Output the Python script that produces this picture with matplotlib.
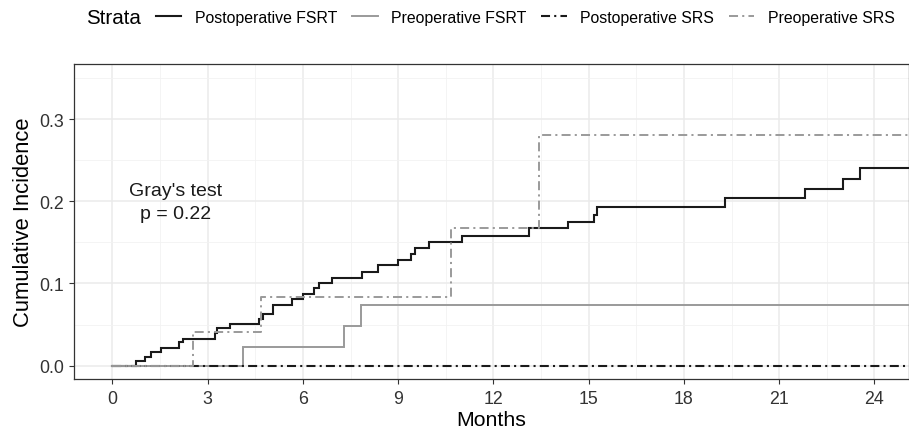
import matplotlib
matplotlib.use("Agg")
import matplotlib.pyplot as plt
from matplotlib.lines import Line2D

plt.rcParams['font.family'] = ['Liberation Sans', 'DejaVu Sans']
plt.rcParams['lines.scale_dashes'] = False

# ---- data ----
postop_fsrt_t = [0, 0.74, 1.02, 1.23, 1.53, 2.10, 2.23, 3.23, 3.30, 3.70, 4.62, 4.75,
                 5.05, 5.66, 5.99, 6.35, 6.50, 6.92, 7.87, 8.37, 9.00, 9.41, 9.53,
                 9.97, 11.02, 13.12, 14.36, 15.17, 15.25, 19.29, 21.82, 23.02, 23.54]
postop_fsrt_ci = [0, 0.006, 0.010, 0.017, 0.0215, 0.0285, 0.033, 0.040, 0.0455, 0.051,
                  0.057, 0.063, 0.074, 0.081, 0.087, 0.094, 0.100, 0.107, 0.114, 0.122,
                  0.129, 0.136, 0.143, 0.151, 0.158, 0.167, 0.175, 0.183, 0.193, 0.204,
                  0.215, 0.227, 0.2405]
preop_fsrt_t = [0, 4.10, 7.30, 7.82]
preop_fsrt_ci = [0, 0.023, 0.048, 0.074]
postop_srs_t = [0]
postop_srs_ci = [0]
preop_srs_t = [0, 2.53, 4.68, 10.68, 13.44]
preop_srs_ci = [0, 0.041, 0.084, 0.168, 0.281]
follow_up_end = 25.5

strata = ["Postoperative FSRT", "Preoperative FSRT", "Postoperative SRS", "Preoperative SRS"]
x_ticks = [0, 3, 6, 9, 12, 15, 18, 21, 24]
y_ticks = [0.0, 0.1, 0.2, 0.3]
annot_text = "Gray's test\np = 0.22"

# ---- styles ----
dashdot = (0, (6.5, 3.0, 1.5, 3.0))
styles = {
    "Postoperative FSRT": dict(color="#1a1a1a", ls="-", lw=1.5),
    "Preoperative FSRT": dict(color="#9a9a9a", ls="-", lw=1.4),
    "Postoperative SRS": dict(color="#1a1a1a", ls=dashdot, lw=1.5),
    "Preoperative SRS": dict(color="#9a9a9a", ls=dashdot, lw=1.4),
}
series = {
    "Postoperative FSRT": (postop_fsrt_t, postop_fsrt_ci),
    "Preoperative FSRT": (preop_fsrt_t, preop_fsrt_ci),
    "Postoperative SRS": (postop_srs_t, postop_srs_ci),
    "Preoperative SRS": (preop_srs_t, preop_srs_ci),
}

W, H = 909, 431
fig = plt.figure(figsize=(W / 100, H / 100), dpi=100)
ax = fig.add_axes([74 / W, 1 - 380 / H, 1 - 74 / W, (380 - 65) / H])

for name in strata:
    t, ci = series[name]
    xs = list(t) + [follow_up_end]
    ys = list(ci) + [ci[-1]]
    st = styles[name]
    ax.plot(xs, ys, drawstyle="steps-post", color=st["color"], linestyle=st["ls"],
            linewidth=st["lw"], solid_joinstyle="miter", zorder=3)

ax.set_xlim(-1.21, 25.09)
ax.set_ylim(-0.0162, 0.367)
ax.set_xticks(x_ticks)
ax.set_yticks(y_ticks)
ax.set_xticks([v + 1.5 for v in x_ticks[:-1]], minor=True)
ax.set_yticks([0.05, 0.15, 0.25, 0.35], minor=True)
ax.set_yticklabels([f"{v:.1f}" for v in y_ticks])
ax.grid(which="major", color="#EBEBEB", lw=1.1, zorder=0)
ax.grid(which="minor", color="#F2F2F2", lw=0.6, zorder=0)
ax.set_axisbelow(True)
ax.tick_params(which="major", length=3.4, width=0.8, color="#333333",
               labelsize=12.8, labelcolor="#333333")
ax.tick_params(axis="x", which="major", pad=4.5)
ax.tick_params(axis="y", which="major", pad=3.5)
ax.tick_params(which="minor", length=0)
for sp in ax.spines.values():
    sp.set_color("#333333")
    sp.set_linewidth(0.9)

ax.set_xlabel("Months", fontsize=15.3, labelpad=2.5)
ax.set_ylabel("Cumulative Incidence", fontsize=15.8, labelpad=4)

ax.text(2.0, 0.199, annot_text, ha="center", va="center", fontsize=14,
        linespacing=1.45, color="#1a1a1a")

# legend on top
handles = [Line2D([0], [0], color=styles[n]["color"], linestyle=styles[n]["ls"],
                  linewidth=styles[n]["lw"]) for n in strata]
fig.text(86 / W, 1 - 18 / H, "Strata", fontsize=14.8, ha="left", va="center")
fig.legend(handles, strata, loc="center left", bbox_to_anchor=(156 / W, 1 - 18 / H),
           ncol=4, frameon=False, fontsize=11.4, handlelength=1.6,
           handletextpad=0.85, columnspacing=0.95, borderpad=0, borderaxespad=0)

fig.savefig("out.png", dpi=100)
